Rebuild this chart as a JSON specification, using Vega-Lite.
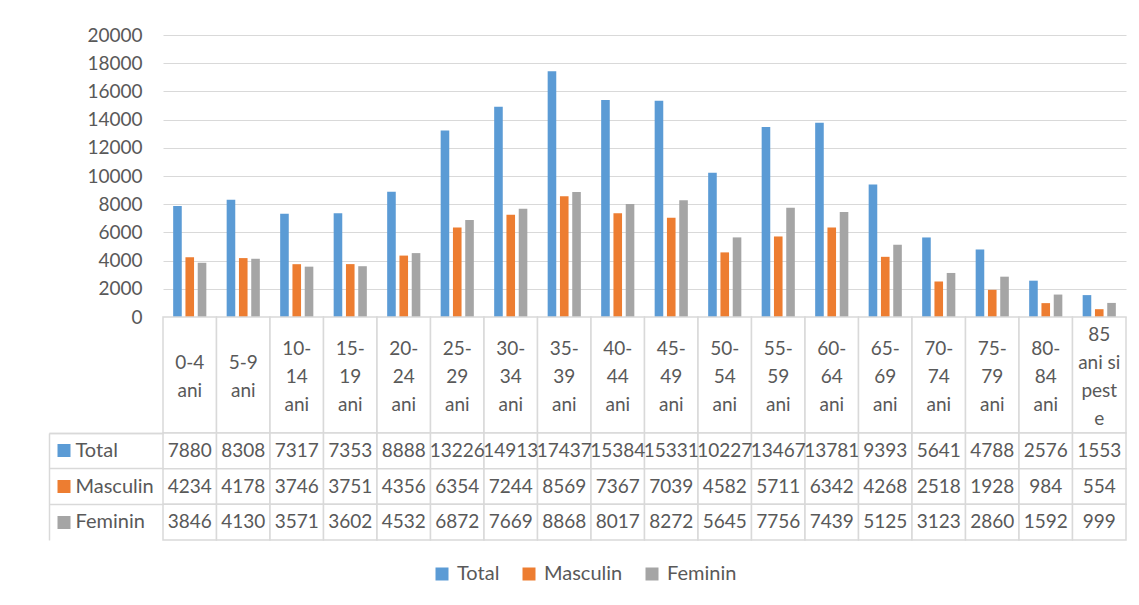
{
  "$schema": "https://vega.github.io/schema/vega-lite/v6.json",
  "padding": {"left": 48, "top": 26, "right": 0, "bottom": 0},
  "background": "white",
  "bounds": "flush",
  "config": {
    "view": {"stroke": null},
    "font": "Lato",
    "concat": {"spacing": 0},
    "axis": {"labelFont": "Lato", "labelFontSize": 19, "labelColor": "#595959"},
    "legend": {
      "symbolType": "square",
      "symbolSize": 169,
      "symbolStrokeWidth": 0,
      "labelFont": "Lato",
      "labelFontSize": 20,
      "labelColor": "#595959",
      "labelOffset": 5,
      "columnPadding": 19
    }
  },
  "datasets": {
    "d": [
      {"cat": "0-4\nani", "series": "Total", "value": 7880},
      {"cat": "0-4\nani", "series": "Masculin", "value": 4234},
      {"cat": "0-4\nani", "series": "Feminin", "value": 3846},
      {"cat": "5-9\nani", "series": "Total", "value": 8308},
      {"cat": "5-9\nani", "series": "Masculin", "value": 4178},
      {"cat": "5-9\nani", "series": "Feminin", "value": 4130},
      {"cat": "10-\n14\nani", "series": "Total", "value": 7317},
      {"cat": "10-\n14\nani", "series": "Masculin", "value": 3746},
      {"cat": "10-\n14\nani", "series": "Feminin", "value": 3571},
      {"cat": "15-\n19\nani", "series": "Total", "value": 7353},
      {"cat": "15-\n19\nani", "series": "Masculin", "value": 3751},
      {"cat": "15-\n19\nani", "series": "Feminin", "value": 3602},
      {"cat": "20-\n24\nani", "series": "Total", "value": 8888},
      {"cat": "20-\n24\nani", "series": "Masculin", "value": 4356},
      {"cat": "20-\n24\nani", "series": "Feminin", "value": 4532},
      {"cat": "25-\n29\nani", "series": "Total", "value": 13226},
      {"cat": "25-\n29\nani", "series": "Masculin", "value": 6354},
      {"cat": "25-\n29\nani", "series": "Feminin", "value": 6872},
      {"cat": "30-\n34\nani", "series": "Total", "value": 14913},
      {"cat": "30-\n34\nani", "series": "Masculin", "value": 7244},
      {"cat": "30-\n34\nani", "series": "Feminin", "value": 7669},
      {"cat": "35-\n39\nani", "series": "Total", "value": 17437},
      {"cat": "35-\n39\nani", "series": "Masculin", "value": 8569},
      {"cat": "35-\n39\nani", "series": "Feminin", "value": 8868},
      {"cat": "40-\n44\nani", "series": "Total", "value": 15384},
      {"cat": "40-\n44\nani", "series": "Masculin", "value": 7367},
      {"cat": "40-\n44\nani", "series": "Feminin", "value": 8017},
      {"cat": "45-\n49\nani", "series": "Total", "value": 15331},
      {"cat": "45-\n49\nani", "series": "Masculin", "value": 7039},
      {"cat": "45-\n49\nani", "series": "Feminin", "value": 8272},
      {"cat": "50-\n54\nani", "series": "Total", "value": 10227},
      {"cat": "50-\n54\nani", "series": "Masculin", "value": 4582},
      {"cat": "50-\n54\nani", "series": "Feminin", "value": 5645},
      {"cat": "55-\n59\nani", "series": "Total", "value": 13467},
      {"cat": "55-\n59\nani", "series": "Masculin", "value": 5711},
      {"cat": "55-\n59\nani", "series": "Feminin", "value": 7756},
      {"cat": "60-\n64\nani", "series": "Total", "value": 13781},
      {"cat": "60-\n64\nani", "series": "Masculin", "value": 6342},
      {"cat": "60-\n64\nani", "series": "Feminin", "value": 7439},
      {"cat": "65-\n69\nani", "series": "Total", "value": 9393},
      {"cat": "65-\n69\nani", "series": "Masculin", "value": 4268},
      {"cat": "65-\n69\nani", "series": "Feminin", "value": 5125},
      {"cat": "70-\n74\nani", "series": "Total", "value": 5641},
      {"cat": "70-\n74\nani", "series": "Masculin", "value": 2518},
      {"cat": "70-\n74\nani", "series": "Feminin", "value": 3123},
      {"cat": "75-\n79\nani", "series": "Total", "value": 4788},
      {"cat": "75-\n79\nani", "series": "Masculin", "value": 1928},
      {"cat": "75-\n79\nani", "series": "Feminin", "value": 2860},
      {"cat": "80-\n84\nani", "series": "Total", "value": 2576},
      {"cat": "80-\n84\nani", "series": "Masculin", "value": 984},
      {"cat": "80-\n84\nani", "series": "Feminin", "value": 1592},
      {"cat": "85\nani si\npest\ne", "series": "Total", "value": 1553},
      {"cat": "85\nani si\npest\ne", "series": "Masculin", "value": 554},
      {"cat": "85\nani si\npest\ne", "series": "Feminin", "value": 999}
    ]
  },
  "vconcat": [
    {
      "width": 963,
      "height": 282,
      "data": {"name": "d"},
      "mark": {"type": "bar"},
      "encoding": {
        "x": {"field": "cat", "type": "nominal", "sort": null, "scale": {"paddingInner": 0.38, "paddingOuter": 0.19}, "axis": null},
        "xOffset": {"field": "series", "type": "nominal", "sort": ["Total", "Masculin", "Feminin"], "scale": {"paddingInner": 0.3}},
        "y": {
          "field": "value", "type": "quantitative",
          "scale": {"domain": [0, 20000], "nice": false},
          "axis": {"values": [0, 2000, 4000, 6000, 8000, 10000, 12000, 14000, 16000, 18000, 20000], "domain": false, "ticks": false, "labelPadding": 21, "gridColor": "#d9d9d9", "gridWidth": 1.2, "title": null, "format": "d"}
        },
        "color": {
          "field": "series", "type": "nominal",
          "scale": {"domain": ["Total", "Masculin", "Feminin"], "range": ["#5b9bd5", "#ed7d31", "#a5a5a5"]},
          "legend": {"title": null, "orient": "none", "direction": "horizontal", "legendX": 269, "legendY": 529}
        }
      }
    },
    {
      "width": 963,
      "height": 116,
      "data": {"name": "d"},
      "transform": [{"filter": "datum.series === 'Total'"}],
      "encoding": {
        "x": {"field": "cat", "type": "nominal", "sort": null, "scale": {"paddingInner": 0, "paddingOuter": 0}, "axis": null}
      },
      "layer": [
        {"mark": {"type": "rect", "fill": "white", "stroke": "#d9d9d9", "strokeWidth": 1.5}},
        {
          "transform": [{"filter": "length(split(datum.cat, '\\n')) == 2"}],
          "mark": {"type": "text", "lineBreak": "\n", "font": "Lato", "fontSize": 19, "fill": "#595959", "lineHeight": 28, "baseline": "middle", "align": "center", "dy": -12},
          "encoding": {"text": {"field": "cat", "type": "nominal"}}
        },
        {
          "transform": [{"filter": "length(split(datum.cat, '\\n')) == 3"}],
          "mark": {"type": "text", "lineBreak": "\n", "font": "Lato", "fontSize": 19, "fill": "#595959", "lineHeight": 28, "baseline": "middle", "align": "center", "dy": -26},
          "encoding": {"text": {"field": "cat", "type": "nominal"}}
        },
        {
          "transform": [{"filter": "length(split(datum.cat, '\\n')) == 4"}],
          "mark": {"type": "text", "lineBreak": "\n", "font": "Lato", "fontSize": 19, "fill": "#595959", "lineHeight": 28, "baseline": "middle", "align": "center", "dy": -40},
          "encoding": {"text": {"field": "cat", "type": "nominal"}}
        }
      ]
    },
    {
      "width": 963,
      "height": 107,
      "data": {"name": "d"},
      "encoding": {
        "x": {"field": "cat", "type": "nominal", "sort": null, "scale": {"paddingInner": 0, "paddingOuter": 0}, "axis": null}
      },
      "layer": [
        {
          "mark": {"type": "rect", "fill": "white", "stroke": "#d9d9d9", "strokeWidth": 1.5},
          "encoding": {
            "y": {
              "field": "series", "type": "nominal", "sort": ["Total", "Masculin", "Feminin"],
              "scale": {"paddingInner": 0, "paddingOuter": 0},
              "axis": {"orient": "left", "title": null, "domain": false, "grid": false, "labels": false, "ticks": true, "tickSize": 114, "tickColor": "#d9d9d9", "tickWidth": 1.5, "bandPosition": 0, "tickExtra": true}
            }
          }
        },
        {
          "mark": {"type": "text", "font": "Lato", "fontSize": 19, "fill": "#595959", "baseline": "middle", "align": "center"},
          "encoding": {
            "text": {"field": "value", "type": "nominal"},
            "y": {
              "field": "series", "type": "nominal", "sort": ["Total", "Masculin", "Feminin"],
              "scale": {"paddingInner": 0, "paddingOuter": 0},
              "axis": {
                "orient": "left", "offset": 93, "title": null, "domain": false, "grid": false,
                "ticks": true, "tickSize": 13, "tickWidth": 13, "bandPosition": 0.5,
                "tickColor": {"condition": [{"test": "datum.value === 'Total'", "value": "#5b9bd5"}, {"test": "datum.value === 'Masculin'", "value": "#ed7d31"}], "value": "#a5a5a5"},
                "labels": true, "labelAlign": "left", "labelPadding": -18, "labelFontSize": 20, "labelColor": "#595959", "labelFont": "Lato"
              }
            }
          }
        },
        {
          "mark": {"type": "rect", "opacity": 0},
          "encoding": {
            "y": {
              "field": "series", "type": "nominal", "sort": ["Total", "Masculin", "Feminin"],
              "scale": {"paddingInner": 0, "paddingOuter": 0},
              "axis": {"orient": "left", "offset": 114, "title": null, "domain": true, "domainColor": "#d9d9d9", "domainWidth": 1.5, "ticks": false, "labels": false, "grid": false}
            }
          }
        }
      ],
      "resolve": {"axis": {"y": "independent"}}
    }
  ]
}
